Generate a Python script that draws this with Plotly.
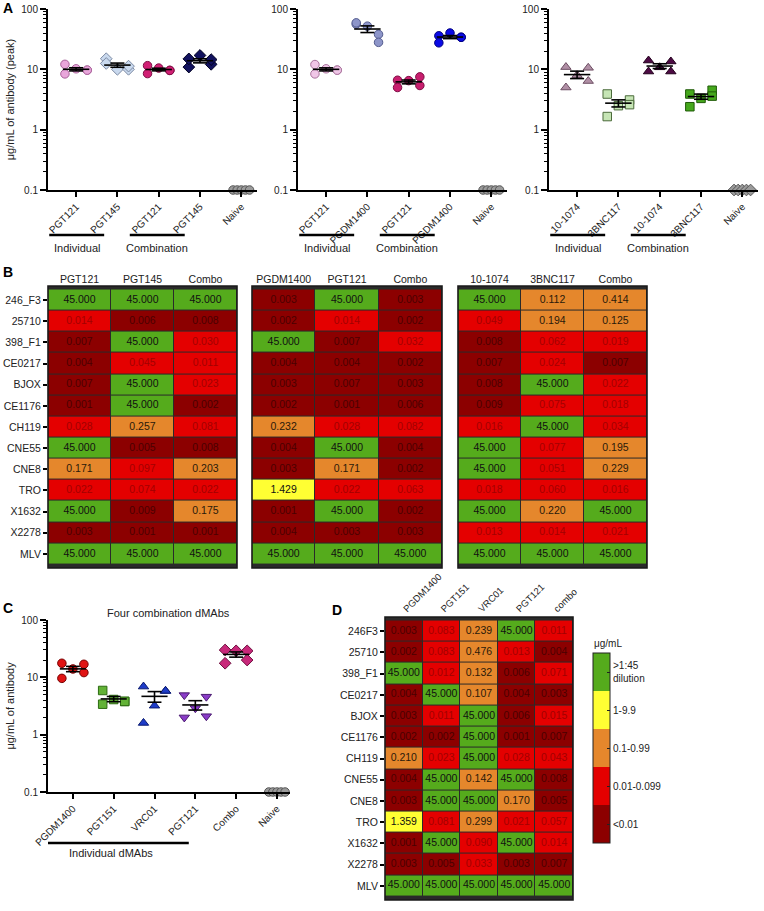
import numpy as np
import plotly.graph_objects as go

W, H = 764, 911
FONT = "Liberation Sans, Arial, sans-serif"

# ---------------- panel A data (peak ug/mL) ----------------
A1_LABELS = ["PGT121", "PGT145", "PGT121", "PGT145", "Naive"]
A1_VALUES = [
    [12.1, 8.4, 10.2, 9.7, 9.7],
    [15.0, 12.5, 10.0, 10.0, 11.3],
    [11.5, 8.5, 10.5, 9.6, 9.6],
    [10.9, 14.9, 17.0, 12.1, 14.5],
    [0.1, 0.1, 0.1, 0.1, 0.1],
]
A2_LABELS = ["PGT121", "PGDM1400", "PGT121", "PGDM1400", "Naive"]
A2_VALUES = [
    [12.0, 8.4, 10.2, 9.7, 9.7],
    [56, 59, 52, 38, 28],
    [6.6, 5.0, 6.5, 7.5, 5.4],
    [36, 27.5, 40, 34, 34],
    [0.1, 0.1, 0.1, 0.1, 0.1],
]
A3_LABELS = ["10-1074", "3BNC117", "10-1074", "3BNC117", "Naive"]
A3_VALUES = [
    [10.9, 5.0, 8.0, 10.6, 6.4],
    [3.9, 1.65, 2.5, 3.1, 2.6],
    [9.2, 14.0, 10.8, 13.5, 9.2],
    [3.9, 2.4, 3.3, 4.5, 3.6],
    [0.1, 0.1, 0.1, 0.1, 0.1],
]

# ---------------- panel C data ----------------
C_LABELS = ["PGDM1400", "PGT151", "VRC01", "PGT121", "Combo", "Naive"]
C_VALUES = [
    [17.6, 9.6, 14.0, 16.9, 12.1],
    [5.9, 3.4, 4.1, 3.8, 3.8],
    [6.9, 1.6, 3.2, 5.8, 5.8],
    [4.9, 2.0, 2.9, 4.6, 2.1],
    [30, 17.6, 29, 29, 20],
    [0.1, 0.1, 0.1, 0.1, 0.1],
]

# ---------------- panel B / D heatmap data (IC50 ug/mL) ----------------
B_ROWS = ["246_F3", "25710", "398_F1", "CE0217", "BJOX", "CE1176", "CH119",
          "CNE55", "CNE8", "TRO", "X1632", "X2278", "MLV"]
B1_COLS = ["PGT121", "PGT145", "Combo"]
B1_VALUES = [
    [45, 45, 45], [0.014, 0.006, 0.008], [0.007, 45, 0.030], [0.004, 0.045, 0.011],
    [0.007, 45, 0.023], [0.001, 45, 0.002], [0.028, 0.257, 0.081], [45, 0.005, 0.008],
    [0.171, 0.097, 0.203], [0.022, 0.074, 0.022], [45, 0.009, 0.175],
    [0.003, 0.001, 0.001], [45, 45, 45],
]
B2_COLS = ["PGDM1400", "PGT121", "Combo"]
B2_VALUES = [
    [0.003, 45, 0.003], [0.002, 0.014, 0.002], [45, 0.007, 0.032], [0.004, 0.004, 0.002],
    [0.003, 0.007, 0.003], [0.002, 0.001, 0.006], [0.232, 0.028, 0.082], [0.004, 45, 0.004],
    [0.003, 0.171, 0.002], [1.429, 0.022, 0.063], [0.001, 45, 0.002],
    [0.004, 0.003, 0.003], [45, 45, 45],
]
B3_COLS = ["10-1074", "3BNC117", "Combo"]
B3_VALUES = [
    [45, 0.112, 0.414], [0.049, 0.194, 0.125], [0.008, 0.062, 0.019], [0.007, 0.024, 0.007],
    [0.008, 45, 0.022], [0.009, 0.075, 0.018], [0.016, 45, 0.034], [45, 0.077, 0.195],
    [45, 0.051, 0.229], [0.018, 0.060, 0.016], [45, 0.220, 45],
    [0.013, 0.014, 0.021], [45, 45, 45],
]
D_ROWS = ["246F3", "25710", "398_F1", "CE0217", "BJOX", "CE1176", "CH119",
          "CNE55", "CNE8", "TRO", "X1632", "X2278", "MLV"]
D_COLS = ["PGDM1400", "PGT151", "VRC01", "PGT121", "combo"]
D_VALUES = [
    [0.003, 0.083, 0.239, 45, 0.011],
    [0.002, 0.083, 0.476, 0.013, 0.004],
    [45, 0.012, 0.132, 0.006, 0.071],
    [0.004, 45, 0.107, 0.004, 0.003],
    [0.003, 0.011, 45, 0.006, 0.015],
    [0.002, 0.002, 45, 0.001, 0.007],
    [0.210, 0.023, 45, 0.028, 0.043],
    [0.004, 45, 0.142, 45, 0.008],
    [0.003, 45, 45, 0.170, 0.005],
    [1.359, 0.081, 0.299, 0.021, 0.057],
    [0.001, 45, 0.090, 45, 0.014],
    [0.003, 0.005, 0.033, 0.003, 0.007],
    [45, 45, 45, 45, 45],
]
LEVEL_LABELS = ["<0.01", "0.01-0.099", "0.1-0.99", "1-9.9", ">1:45<br>dilution"]

# colours
LEVEL_COLORS = ["#8C0000", "#E40000", "#E5872C", "#FFFF33", "#55AB1C"]
LEVEL_TEXT = ["#4A0000", "#A20000", "#2A1A0A", "#111111", "#111111"]

# marker styles: (symbol, fill, outline)
A1_STYLE = [("circle", "#E9A6DB", "#A8639A"), ("diamond", "#C9D9EE", "#7C8AA3"),
            ("circle", "#D11F74", "#7E0E44"), ("diamond", "#12125E", "#000020"),
            ("circle", "#9A9A9A", "#555555")]
A2_STYLE = [("circle", "#F0C6E7", "#A8739C"), ("circle", "#8D95C9", "#545C8E"),
            ("circle", "#C81E6E", "#7E0E44"), ("circle", "#0A0AE6", "#000080"),
            ("circle", "#9A9A9A", "#555555")]
A3_STYLE = [("triangle-up", "#B08FA5", "#6D4E63"), ("square", "#C6E5B5", "#4A6A3A"),
            ("triangle-up", "#4D0B44", "#22001C"), ("square", "#45A81C", "#1F5A08"),
            ("diamond", "#9A9A9A", "#555555")]
C_STYLE = [("circle", "#E01414", "#770000"), ("square", "#62B236", "#2D6B12"),
           ("triangle-up", "#1E3CC8", "#0A1A70"), ("triangle-down", "#8A3CC8", "#4A1A70"),
           ("diamond", "#C8287A", "#6E0E3E"), ("circle", "#9A9A9A", "#555555")]

JITTER = [-0.27, -0.27, 0.0, 0.27, 0.27]
NAIVE_JITTER = [-0.2, -0.1, 0.0, 0.1, 0.2]


def px(x):
    return x / W


def py(y):
    return 1 - y / H


def level(v):
    if v >= 45:
        return 4
    if v >= 1:
        return 3
    if v >= 0.1:
        return 2
    if v >= 0.01:
        return 1
    return 0


fig = go.Figure()


def add_dotplot(values, styles, xname, yname):
    """Scatter of individual animals with mean +/- SEM bars"""
    for i, (vals, (sym, fill, line)) in enumerate(zip(values, styles)):
        is_naive = all(v == 0.1 for v in vals)
        jit = NAIVE_JITTER if is_naive else JITTER
        xs = [i + j for j in jit[: len(vals)]]
        size = 8.5 if sym in ("circle", "square") else 9
        fig.add_trace(go.Scatter(
            x=xs, y=vals, mode="markers", xaxis=xname, yaxis=yname,
            marker=dict(symbol=sym, size=size, color=fill, line=dict(color=line, width=1)),
            cliponaxis=False, showlegend=False, hoverinfo="y",
        ))
        if is_naive:
            continue
        m = np.mean(vals)
        sem = np.std(vals, ddof=1) / np.sqrt(len(vals))
        lx, ly = [], []
        lx += [i - 0.32, i + 0.32, None]
        ly += [m, m, None]
        for b in (m - sem, m + sem):
            lx += [i - 0.17, i + 0.17, None]
            ly += [b, b, None]
        lx += [i, i]
        ly += [m - sem, m + sem]
        fig.add_trace(go.Scatter(
            x=lx, y=ly, mode="lines", xaxis=xname, yaxis=yname,
            line=dict(color="black", width=1.6), showlegend=False, hoverinfo="skip",
        ))


def add_table(rows, cols, values, xname, yname, showscale=False):
    z = [[level(v) for v in r] for r in values]
    cs = []
    for k, c in enumerate(LEVEL_COLORS):
        cs += [[k / 5, c], [(k + 1) / 5, c]]
    hm = go.Heatmap(
        z=z, x=cols, y=rows, xaxis=xname, yaxis=yname, zmin=-0.5, zmax=4.5,
        colorscale=cs, xgap=1, ygap=1, showscale=showscale, hoverinfo="skip",
    )
    if showscale:
        hm.colorbar = dict(
            x=px(593), xanchor="left", y=py(748), yanchor="middle",
            len=190, lenmode="pixels", thickness=17, thicknessmode="pixels",
            xpad=0, ypad=0, outlinewidth=1, outlinecolor="#222",
            tickvals=[0, 1, 2, 3, 4], ticktext=LEVEL_LABELS,
            ticks="inside", ticklen=3, tickcolor="#222",
            tickfont=dict(size=10, family=FONT, color="#222"),
        )
    fig.add_trace(hm)
    tx, ty, tt, tc = [], [], [], []
    for r, rv in zip(rows, values):
        for c, v in zip(cols, rv):
            tx.append(c)
            ty.append(r)
            tt.append(f"{v:.3f}")
            tc.append(LEVEL_TEXT[level(v)])
    fig.add_trace(go.Scatter(
        x=tx, y=ty, text=tt, mode="text", xaxis=xname, yaxis=yname,
        textfont=dict(size=10.5, color=tc, family=FONT), showlegend=False, hoverinfo="skip",
    ))
    # dark grid underneath and border on top
    ax = xname + " domain"
    ay = yname + " domain"
    fig.add_shape(type="rect", xref=ax, yref=ay, x0=0, x1=1, y0=0, y1=1,
                  fillcolor="#2a2a2a", line=dict(width=0), layer="below")
    fig.add_shape(type="rect", xref=ax, yref=ay, x0=0, x1=1, y0=0, y1=1,
                  line=dict(color="#1a1a1a", width=1.6), layer="above")


add_dotplot(A1_VALUES, A1_STYLE, "x", "y")
add_dotplot(A2_VALUES, A2_STYLE, "x2", "y2")
add_dotplot(A3_VALUES, A3_STYLE, "x3", "y3")
add_table(B_ROWS, B1_COLS, B1_VALUES, "x4", "y4")
add_table(B_ROWS, B2_COLS, B2_VALUES, "x5", "y5")
add_table(B_ROWS, B3_COLS, B3_VALUES, "x6", "y6")
add_dotplot(C_VALUES, C_STYLE, "x7", "y7")
add_table(D_ROWS, D_COLS, D_VALUES, "x8", "y8", showscale=True)

minor_vals = [m * 10.0 ** e for e in (-1, 0, 1) for m in range(2, 10)]


def dot_axes(xdom, ydom, labels, xrange, ytitle=None):
    xa = dict(
        domain=[px(xdom[0]), px(xdom[1])], range=xrange, showline=True, linewidth=2,
        linecolor="black", ticks="outside", ticklen=5, tickwidth=1.5, tickcolor="black",
        tickvals=list(range(len(labels))), ticktext=labels, tickangle=-45,
        tickfont=dict(size=10, family=FONT, color="#222"), showgrid=False, zeroline=False,
        automargin=False,
    )
    ya = dict(
        domain=[py(ydom[1]), py(ydom[0])], type="log", range=[-1, 2], showline=True,
        linewidth=2, linecolor="black", ticks="outside", ticklen=6, tickwidth=1.5,
        tickcolor="black", tickvals=[0.1, 1, 10, 100], ticktext=["0.1", "1", "10", "100"],
        minor=dict(tickvals=minor_vals, ticks="outside", ticklen=3, tickwidth=1,
                   tickcolor="black", showgrid=False),
        tickfont=dict(size=10, family=FONT, color="#222"), showgrid=False, zeroline=False,
        automargin=False,
    )
    if ytitle:
        ya["title"] = dict(text=ytitle, standoff=4, font=dict(size=11, family=FONT, color="#222"))
    return xa, ya


A_RANGE = [-0.68, 4.38]
xa, ya = dot_axes((48, 257), (9, 190), A1_LABELS, A_RANGE, "μg/mL of antibody (peak)")
fig.update_layout(xaxis=dict(xa, anchor="y"), yaxis=dict(ya, anchor="x"))
xa, ya = dot_axes((298, 507), (9, 190), A2_LABELS, A_RANGE)
fig.update_layout(xaxis2=dict(xa, anchor="y2"), yaxis2=dict(ya, anchor="x2"))
xa, ya = dot_axes((549, 758), (9, 190), A3_LABELS, A_RANGE)
fig.update_layout(xaxis3=dict(xa, anchor="y3"), yaxis3=dict(ya, anchor="x3"))
xa, ya = dot_axes((48, 290), (620, 792), C_LABELS, [-0.61, 5.32], "μg/mL of antibody")
fig.update_layout(xaxis7=dict(xa, anchor="y7"), yaxis7=dict(ya, anchor="x7"))


def table_axes(xdom, ydom, show_rows, angle=0, size=10.5):
    xa = dict(
        domain=[px(xdom[0]), px(xdom[1])], side="top", ticks="", showline=False,
        showgrid=False, zeroline=False, tickangle=angle, automargin=False,
        tickfont=dict(size=size, family=FONT, color="#222"),
    )
    ya = dict(
        domain=[py(ydom[1]), py(ydom[0])], autorange="reversed", showgrid=False,
        zeroline=False, showline=False, showticklabels=show_rows, automargin=False,
        ticks="outside" if show_rows else "", ticklen=4, tickwidth=1.5, tickcolor="black",
        tickfont=dict(size=10.5, family=FONT, color="#222"),
    )
    return xa, ya


xa, ya = table_axes((48, 237), (286, 568), True)
fig.update_layout(xaxis4=dict(xa, anchor="y4"), yaxis4=dict(ya, anchor="x4"))
xa, ya = table_axes((252, 442), (286, 568), False)
fig.update_layout(xaxis5=dict(xa, anchor="y5"), yaxis5=dict(ya, anchor="x5"))
xa, ya = table_axes((458, 647), (286, 568), False)
fig.update_layout(xaxis6=dict(xa, anchor="y6"), yaxis6=dict(ya, anchor="x6"))
xa, ya = table_axes((385, 573), (617, 900), True, angle=-45, size=9.5)
fig.update_layout(xaxis8=dict(xa, anchor="y8"), yaxis8=dict(ya, anchor="x8"))

# group brackets under panel A and C
for xr in ("x", "x2", "x3"):
    for (x0, x1, label) in ((-0.65, 0.68, "Individual"), (1.3, 2.63, "Combination")):
        fig.add_shape(type="line", xref=xr, yref="paper", x0=x0, x1=x1,
                      y0=py(235), y1=py(235), line=dict(color="black", width=2.5))
        fig.add_annotation(xref=xr, yref="paper", x=(x0 + x1) / 2, y=py(248),
                           xanchor="center", yanchor="middle",
                           text=label, showarrow=False,
                           font=dict(size=11, family=FONT, color="#222"))
fig.add_shape(type="line", xref="x7", yref="paper", x0=-0.88, x1=2.84,
              y0=py(843), y1=py(843), line=dict(color="black", width=2.5))
fig.add_annotation(xref="x7", yref="paper", x=0.93, y=py(853), text="Individual dMAbs",
                   xanchor="center", yanchor="middle",
                   showarrow=False, font=dict(size=11, family=FONT, color="#222"))

# titles and panel letters
fig.add_annotation(xref="paper", yref="paper", x=px(168), y=py(613), text="Four combination dMAbs",
                   xanchor="center", yanchor="middle",
                   showarrow=False, font=dict(size=11, family=FONT, color="#222"))
fig.add_annotation(xref="paper", yref="paper", x=px(592), y=py(643), xanchor="left",
                   yanchor="middle",
                   text="μg/mL", showarrow=False, font=dict(size=10, family=FONT, color="#222"))
for letter, lx, ly in (("A", 8, 8), ("B", 8, 272), ("C", 8, 608), ("D", 337, 610)):
    fig.add_annotation(xref="paper", yref="paper", x=px(lx), y=py(ly), text=f"<b>{letter}</b>",
                       xanchor="center", yanchor="middle",
                       showarrow=False, font=dict(size=14, family=FONT, color="black"))

fig.update_layout(
    width=W, height=H, margin=dict(l=0, r=0, t=0, b=0),
    paper_bgcolor="white", plot_bgcolor="white",
    font=dict(family=FONT, color="#222"), showlegend=False,
)

# drop the default page margin so the figure sits at the window origin
fig.write_html("out.html", config={"displayModeBar": False},
               post_script="document.body.style.margin = '0px';")
